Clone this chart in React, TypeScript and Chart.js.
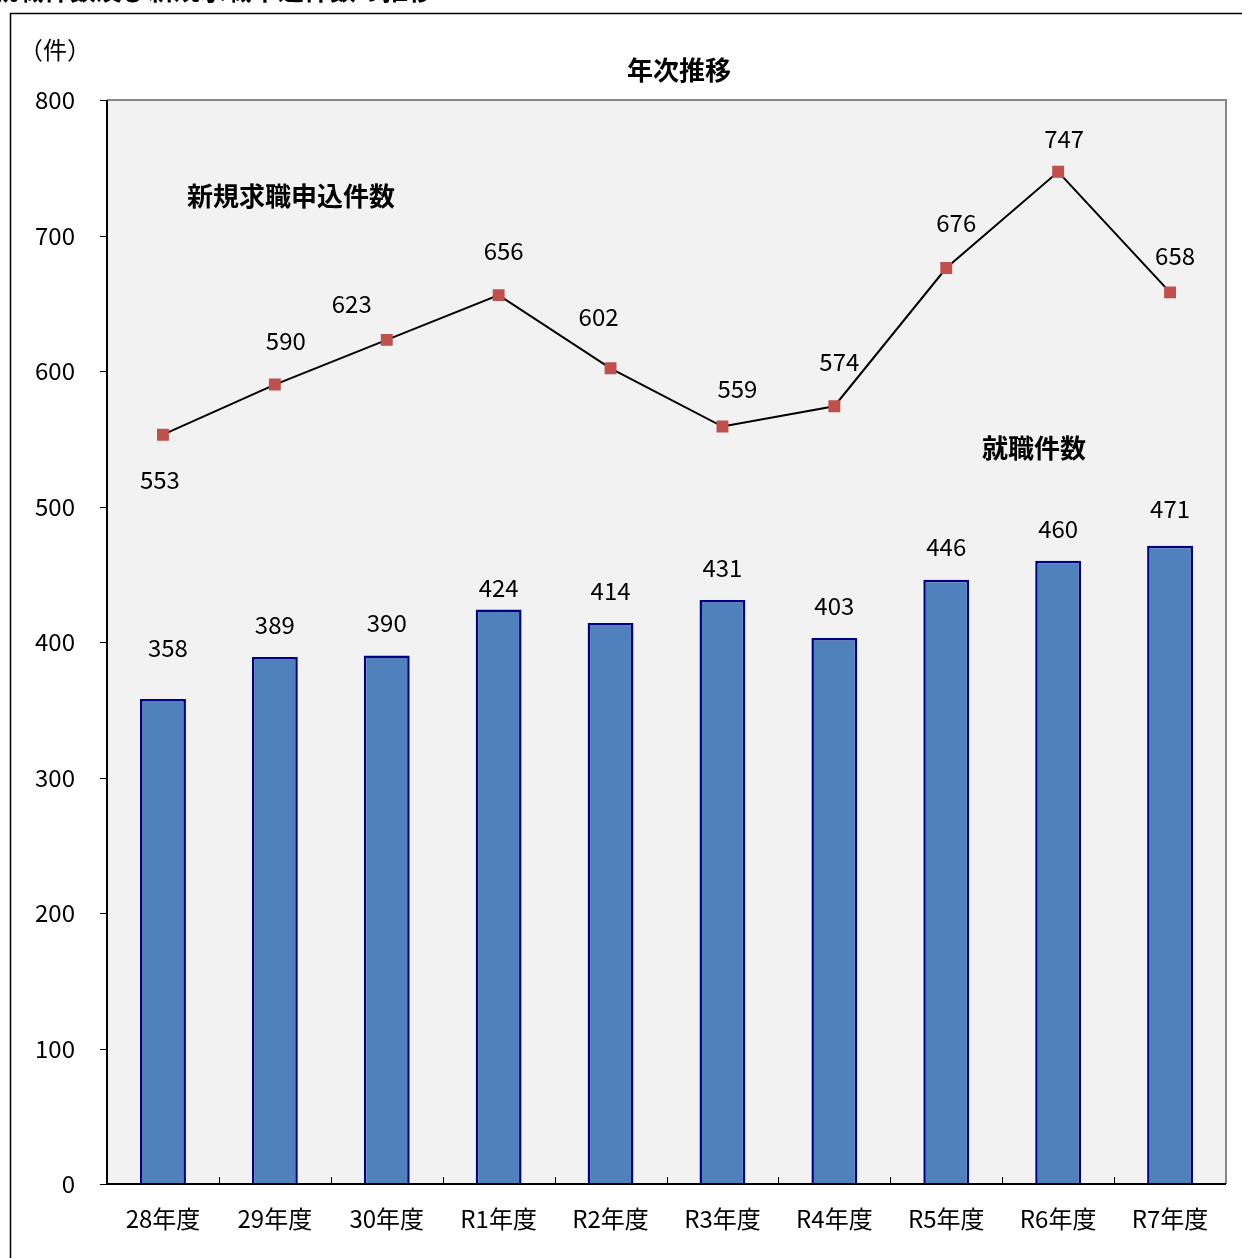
import { Chart, registerables } from "chart.js";
import React, { useEffect, useRef } from "react";

Chart.register(...registerables);

const categories = ["28年度", "29年度", "30年度", "R1年度", "R2年度", "R3年度", "R4年度", "R5年度", "R6年度", "R7年度"];
const placements = [358, 389, 390, 424, 414, 431, 403, 446, 460, 471];
const applications = [553, 590, 623, 656, 602, 559, 574, 676, 747, 658];
const yTicks = [0, 100, 200, 300, 400, 500, 600, 700, 800];

// label offsets (px) relative to each mark
const lineLabelOffsets = [[-3, 45], [11, -44], [-35, -36], [5, -44], [-12, -51], [15, -38], [5, -44], [10, -45], [6, -33], [5, -37]];
const barLabelOffsets = [[5, -51], [0, -32], [0, -33], [0, -22], [0, -32], [0, -32], [0, -32], [0, -33], [0, -32], [0, -37]];

const FONT = "'Noto Sans CJK JP', 'Noto Sans', sans-serif";

const decor = {
  id: "decor",
  beforeDraw(chart: any) {
    const { ctx, chartArea: a } = chart;
    ctx.save();
    ctx.fillStyle = "#fff";
    ctx.fillRect(0, 0, chart.width, chart.height);
    ctx.strokeStyle = "#000";
    ctx.lineWidth = 1.5;
    ctx.strokeRect(10.5, 13.5, 1300, 1300);
    ctx.fillStyle = "#f2f2f2";
    ctx.fillRect(a.left, a.top, a.right - a.left, a.bottom - a.top);
    ctx.restore();
  },
  afterDraw(chart: any) {
    const { ctx, chartArea: a } = chart;
    const x = chart.scales.x;
    const y = chart.scales.y;
    ctx.save();
    ctx.strokeStyle = "#888";
    ctx.lineWidth = 2;
    ctx.beginPath();
    ctx.moveTo(a.left, a.top);
    ctx.lineTo(a.right, a.top);
    ctx.lineTo(a.right, a.bottom);
    ctx.stroke();
    ctx.strokeStyle = "#000";
    ctx.beginPath();
    ctx.moveTo(a.left, a.top);
    ctx.lineTo(a.left, a.bottom);
    ctx.lineTo(a.right, a.bottom);
    ctx.stroke();
    ctx.lineWidth = 1;
    ctx.beginPath();
    yTicks.forEach((v) => {
      const py = Math.round(y.getPixelForValue(v)) + 0.5;
      ctx.moveTo(a.left - 7, py);
      ctx.lineTo(a.left, py);
    });
    for (let i = 1; i < categories.length; i++) {
      const px = Math.round((x.getPixelForValue(i - 1) + x.getPixelForValue(i)) / 2) + 0.5;
      ctx.moveTo(px, a.bottom);
      ctx.lineTo(px, a.bottom - 7);
    }
    ctx.stroke();

    ctx.fillStyle = "#000";
    ctx.textAlign = "center";
    ctx.textBaseline = "middle";
    ctx.font = `24px ${FONT}`;
    const bars = chart.getDatasetMeta(0).data;
    bars.forEach((b: any, i: number) => {
      ctx.fillText(String(placements[i]), b.x + barLabelOffsets[i][0], b.y + barLabelOffsets[i][1]);
    });
    const pts = chart.getDatasetMeta(1).data;
    pts.forEach((p: any, i: number) => {
      ctx.fillText(String(applications[i]), p.x + lineLabelOffsets[i][0], p.y + lineLabelOffsets[i][1]);
    });
    ctx.fillText("（件）", 55, 50);
    ctx.font = `bold 26px ${FONT}`;
    ctx.fillText("年次推移", 679, 70);
    ctx.fillText("新規求職申込件数", 291, 196);
    ctx.fillText("就職件数", 1034, 448);
    ctx.textAlign = "left";
    ctx.fillText("就職件数及び新規求職申込件数の推移", -8, -10);
    ctx.restore();
  },
};

export default function App() {
  const ref = useRef<HTMLCanvasElement>(null);
  useEffect(() => {
    if (!ref.current) return;
    const chart = new Chart(ref.current, {
      type: "bar",
      data: {
        labels: categories,
        datasets: [
          {
            type: "bar",
            data: placements,
            backgroundColor: "#4f81bd",
            borderColor: "#000080",
            borderWidth: 2.5,
            barPercentage: 0.41,
            categoryPercentage: 1,
            order: 2,
          },
          {
            type: "line",
            data: applications,
            borderColor: "#000",
            borderWidth: 2,
            pointStyle: "rect",
            pointRadius: 7,
            pointBackgroundColor: "#c0504d",
            pointBorderColor: "#c0504d",
            order: 1,
          },
        ],
      },
      options: {
        animation: false,
        responsive: false,
        layout: { padding: { top: 100, right: 16, left: 0, bottom: 0 } },
        plugins: { legend: { display: false }, tooltip: { enabled: false } },
        scales: {
          x: {
            grid: { display: false },
            border: { display: false },
            ticks: { color: "#000", font: { size: 24, family: FONT }, padding: 12 },
            afterFit: (s: any) => { s.height = 74; },
          },
          y: {
            min: 0,
            max: 800,
            grid: { display: false },
            border: { display: false },
            ticks: { stepSize: 100, color: "#000", font: { size: 24, family: FONT }, padding: 24 },
            afterFit: (s: any) => { s.width = 107; },
          },
        },
      },
      plugins: [decor],
    });
    return () => chart.destroy();
  }, []);
  return (
    <div style={{ position: "fixed", left: 0, top: 0, width: 1242, height: 1258, background: "#fff" }}>
      <canvas ref={ref} width={1242} height={1258} style={{ width: 1242, height: 1258 }} />
    </div>
  );
}
